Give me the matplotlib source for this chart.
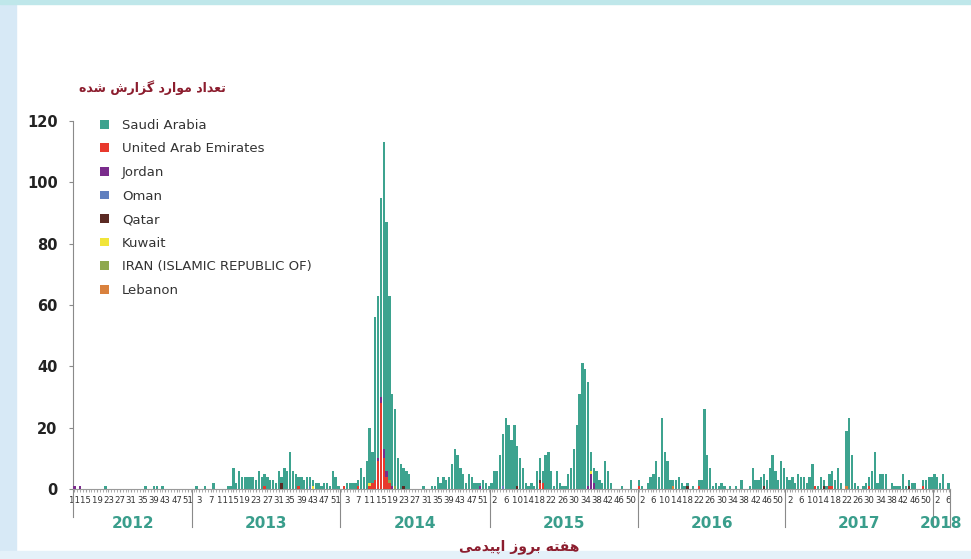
import matplotlib
matplotlib.use("Agg")
import matplotlib.pyplot as plt
from matplotlib.patches import Patch, Rectangle
import numpy as np

# ---------------- data ----------------
years = [2012, 2013, 2014, 2015, 2016, 2017, 2018]
first_week = [11, 1, 1, 1, 1, 1, 1]
last_week = [52, 52, 53, 52, 52, 52, 6]

saudi_2012 = [0,0,0,0,0,0,0,0,0,0,0,1,0,0,0,0,0,0,0,0,0,0,0,0,0,1,0,0,1,1,0,1,0,0,0,0,0,0,0,0,0,0]
saudi_2013 = [0,1,0,0,1,0,0,2,0,0,0,0,1,1,7,2,6,4,4,4,4,4,3,6,4,4,4,3,3,2,6,2,7,6,12,6,5,3,4,3,4,3,2,2,2,1,2,2,1,6,4,1]
saudi_2014 = [0,0,2,2,2,2,2,7,4,9,18,10,53,53,65,100,81,60,30,25,10,8,6,6,5,0,0,0,0,1,0,0,1,1,4,2,4,3,4,8,13,11,7,5,2,5,4,2,2,1,3,2,1]
saudi_2015 = [2,6,6,11,17,23,21,16,21,13,10,7,2,1,2,1,6,7,4,11,12,6,1,6,2,1,1,5,7,13,21,31,41,39,34,6,5,6,3,2,9,6,2,0,0,0,1,0,0,3,0,0]
saudi_2016 = [2,1,0,2,4,5,9,4,23,12,9,3,2,3,4,2,1,1,0,1,0,2,3,26,11,7,1,2,1,2,1,0,1,0,1,0,3,0,0,1,7,3,3,4,4,3,7,11,6,3,9,7]
saudi_2017 = [4,3,4,2,5,4,4,2,4,8,0,1,4,2,1,4,5,3,7,2,0,18,23,11,2,1,0,1,2,3,6,12,2,5,5,5,0,2,1,1,1,5,1,2,2,2,0,0,2,3,4,4]
saudi_2018 = [5,4,2,5,0,2]

# other countries: (year, epi week, cases)
uae_cases = [(2013,26,1),(2013,38,1),(2014,2,1),(2014,7,1),(2014,11,1),(2014,12,2),(2014,13,3),
             (2014,14,9),(2014,15,28),(2014,16,10),(2014,17,4),(2014,18,2),(2015,18,2),(2015,19,2),
             (2016,1,1),(2016,22,1),(2017,11,1),(2017,16,1),(2017,17,1),(2017,30,1),(2017,49,1)]
jordan_cases = [(2012,11,1),(2012,13,1),(2014,14,1),(2014,15,2),(2014,16,3),(2014,17,2),(2014,19,1),
                (2014,50,1),(2015,35,1),(2015,36,5),(2015,37,2)]
oman_cases = [(2013,42,1),(2015,5,1)]
qatar_cases = [(2013,32,2),(2014,23,1),(2015,10,1),(2015,18,1),(2016,18,1),(2016,45,1),(2017,14,1),(2017,44,1)]
kuwait_cases = [(2013,43,1),(2014,11,1),(2015,36,1)]
iran_cases = [(2014,18,1),(2014,20,1)]
lebanon_cases = [(2016,13,1),(2017,22,1)]

countries = ["Saudi Arabia", "United Arab Emirates", "Jordan", "Oman", "Qatar", "Kuwait",
             "IRAN (ISLAMIC REPUBLIC OF)", "Lebanon"]
colors = ["#3da38f", "#e8392d", "#7a2c8c", "#5f7fbf", "#5b2a24", "#f1e53a", "#8fa84e", "#d9813d"]

# ---------------- build series ----------------
week_year, week_num = [], []
for y, a, b in zip(years, first_week, last_week):
    for w in range(a, b + 1):
        week_year.append(y)
        week_num.append(w)
n = len(week_num)
index_of = {(y, w): i for i, (y, w) in enumerate(zip(week_year, week_num))}

saudi = np.array(saudi_2012 + saudi_2013 + saudi_2014 + saudi_2015 + saudi_2016 + saudi_2017 + saudi_2018, float)

def to_series(cases):
    s = np.zeros(n)
    for y, w, c in cases:
        s[index_of[(y, w)]] += c
    return s

others = [to_series(c) for c in [uae_cases, jordan_cases, oman_cases, qatar_cases,
                                 kuwait_cases, iran_cases, lebanon_cases]]

# ---------------- figure ----------------
W, H = 971, 559
fig = plt.figure(figsize=(W / 100, H / 100), dpi=100)
fig.patch.set_facecolor("white")

# background frame
fig.patches.append(Rectangle((0, 0), 16 / W, 1, transform=fig.transFigure, color="#d7e9f6", zorder=0))
fig.patches.append(Rectangle((0, 1 - 4 / H), 1, 4 / H, transform=fig.transFigure, color="#bfe7ea", zorder=0))
fig.patches.append(Rectangle((0, 0), 1, 8 / H, transform=fig.transFigure, color="#e4f1f9", zorder=0))

ax = fig.add_axes([73 / W, (H - 489) / H, 877 / W, 368 / H])
ax.set_facecolor("none")

x = np.arange(n)
bottom = np.zeros(n)
for s, col in zip(others, colors[1:]):
    ax.bar(x, s, width=0.82, bottom=bottom, color=col, linewidth=0, zorder=3)
    bottom += s
ax.bar(x, saudi, width=0.82, bottom=bottom, color=colors[0], linewidth=0, zorder=2)

ax.set_xlim(-0.5, n - 0.5)
ax.set_ylim(0, 120)

for sp in ["top", "right"]:
    ax.spines[sp].set_visible(False)
ax.spines["left"].set_color("#8a8a8a")
ax.spines["bottom"].set_color("#9a9a9a")
ax.spines["left"].set_linewidth(0.8)
ax.spines["bottom"].set_linewidth(0.8)

ax.set_yticks(np.arange(0, 121, 20))
ax.set_yticklabels([str(v) for v in range(0, 121, 20)], fontweight="bold", fontsize=10.5, color="#222222")
ax.tick_params(axis="y", length=3, color="#8a8a8a", pad=8)

major = list(range(0, n, 4))
ax.set_xticks(major)
ax.set_xticklabels([str(week_num[i]) for i in major], fontsize=6.8, color="#333333",
                   fontstretch="condensed")
ax.set_xticks(x, minor=True)
ax.tick_params(axis="x", which="both", length=2.5, color="#a0a0a0", pad=2.5)

# extended axis lines and year separators
ax.plot([-0.5, -0.5], [0, -(517 - 489) / 368 * 120], color="#8a8a8a", lw=0.8, clip_on=False)
starts = [0]
for y in years:
    starts.append(starts[-1] + week_year.count(y))
for b in starts[1:]:
    ax.plot([b - 0.5, b - 0.5], [0, -(527 - 489) / 368 * 120], color="#8a8a8a", lw=0.8, clip_on=False)
for y, a, b in zip(years, starts[:-1], starts[1:]):
    ax.text((a + b - 1) / 2, -(524 - 489) / 368 * 120, str(y), ha="center", va="center",
            fontsize=11, fontweight="bold", color="#3a9e8c")

# legend
handles = [Patch(facecolor=c, edgecolor="none") for c in colors]
leg = ax.legend(handles, countries, loc="upper left", bbox_to_anchor=(22 / 877, 1.02),
                frameon=False, fontsize=9.5, handlelength=0.65, handleheight=0.65,
                handletextpad=1.0, labelspacing=0.8, borderaxespad=0)
for t in leg.get_texts():
    t.set_color("#333333")

# Persian titles (contextual presentation forms, visual order)
def visual(words):
    return " ".join("".join(chr(c) for c in reversed(w)) for w in reversed(words))

ylabel_words = [
    [0xFE97, 0xFECC, 0xFEAA, 0xFE8D, 0xFEA9],          # تعداد
    [0xFEE3, 0xFEEE, 0xFE8D, 0xFEAD, 0xFEA9],          # موارد
    [0xFB94, 0xFEB0, 0xFE8D, 0xFEAD, 0xFEB5],          # گزارش
    [0xFEB7, 0xFEAA, 0xFEE9],                          # شده
]
xlabel_words = [
    [0xFEEB, 0xFED4, 0xFE98, 0xFEEA],                  # هفته
    [0xFE91, 0xFEAE, 0xFEED, 0xFEAF],                  # بروز
    [0xFE8D, 0xFB58, 0xFBFF, 0xFEAA, 0xFEE3, 0xFBFD],  # اپیدمی
]
fig.text(152 / W, 1 - 88 / H, visual(ylabel_words), ha="center", va="center", fontsize=9,
         fontweight="bold", color="#8c1d2e", family=["DejaVu Sans"])
fig.text(519 / W, 1 - 547 / H, visual(xlabel_words), ha="center", va="center", fontsize=10,
         fontweight="bold", color="#8c1d2e", family=["DejaVu Sans"])

fig.savefig("out.png", dpi=100, facecolor=fig.get_facecolor())
